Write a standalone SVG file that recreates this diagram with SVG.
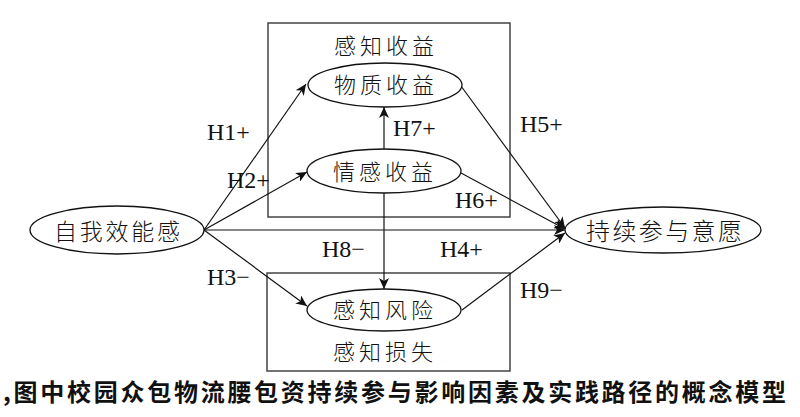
<svg xmlns="http://www.w3.org/2000/svg" width="800" height="417" viewBox="0 0 800 417">
<style>
.box{fill:none;stroke:#444;stroke-width:1.5}
.ell{fill:#fff;stroke:#111;stroke-width:1.3}
.cn{font-family:"Noto Sans CJK SC","Noto Sans CJK TC",sans-serif;font-size:22px;fill:#111;font-weight:300}
.h{font-family:"Liberation Serif",serif;font-size:24px;fill:#111}
.ln{fill:none;stroke:#111;stroke-width:1.2;marker-end:url(#ah)}
.cap{font-family:"Noto Sans CJK SC",sans-serif;font-size:24px;font-weight:700;fill:#111}
</style>
<defs>
<marker id="ah" markerWidth="12" markerHeight="10" refX="11" refY="5" orient="auto" markerUnits="userSpaceOnUse">
<path d="M0,0 L11,5 L0,10 L3,5 Z" fill="#111"/>
</marker>
</defs>
<rect width="800" height="417" fill="#fff"/>
<g id="gain-box">
<rect class="box" x="268" y="23" width="242" height="194"/>
<text class="cn" x="334" y="54" textLength="100" lengthAdjust="spacing">感知收益</text>
</g>
<g id="loss-box">
<rect class="box" x="267" y="273" width="243" height="98"/>
<text class="cn" x="333" y="360" textLength="100" lengthAdjust="spacing">感知损失</text>
</g>
<g id="connectors">
<line class="ln" x1="204" y1="230" x2="306" y2="84"/>
<line class="ln" x1="204" y1="230" x2="307" y2="172"/>
<line class="ln" x1="204" y1="230" x2="565" y2="230"/>
<line class="ln" x1="204" y1="230" x2="307" y2="306"/>
<line class="ln" x1="384" y1="149" x2="384" y2="107"/>
<line class="ln" x1="384" y1="193" x2="384" y2="289"/>
<line class="ln" x1="461" y1="86" x2="565" y2="228"/>
<line class="ln" x1="461" y1="173" x2="565" y2="229"/>
<line class="ln" x1="462" y1="310" x2="565" y2="233"/>
</g>
<g id="n-wuzhi">
<ellipse class="ell" cx="385" cy="85" rx="77" ry="22"/>
<text class="cn" x="334" y="93" textLength="100" lengthAdjust="spacing">物质收益</text>
</g>
<g id="n-qinggan">
<ellipse class="ell" cx="384" cy="171" rx="77" ry="22"/>
<text class="cn" x="333" y="180" textLength="100" lengthAdjust="spacing">情感收益</text>
</g>
<g id="n-fengxian">
<ellipse class="ell" cx="384" cy="310" rx="77" ry="21"/>
<text class="cn" x="333" y="318" textLength="100" lengthAdjust="spacing">感知风险</text>
</g>
<g id="n-ziwo">
<ellipse class="ell" cx="117" cy="230" rx="87" ry="24"/>
<text class="cn" x="54" y="240" style="font-size:23px" textLength="126" lengthAdjust="spacing">自我效能感</text>
</g>
<g id="n-chixu">
<ellipse class="ell" cx="663" cy="230" rx="98" ry="23"/>
<text class="cn" x="586" y="240" style="font-size:24px" textLength="156" lengthAdjust="spacing">持续参与意愿</text>
</g>
<g id="labels">
<text class="h" x="207" y="140">H1+</text>
<text class="h" x="227" y="188">H2+</text>
<text class="h" x="207" y="285">H3−</text>
<text class="h" x="393" y="136">H7+</text>
<text class="h" x="455" y="208">H6+</text>
<text class="h" x="322" y="257">H8−</text>
<text class="h" x="440" y="257">H4+</text>
<text class="h" x="520" y="132">H5+</text>
<text class="h" x="520" y="298">H9−</text>
</g>
<g id="caption">
<text class="cap" x="3" y="401" textLength="783" lengthAdjust="spacing">,图中校园众包物流腰包资持续参与影响因素及实践路径的概念模型</text>
</g>
</svg>
